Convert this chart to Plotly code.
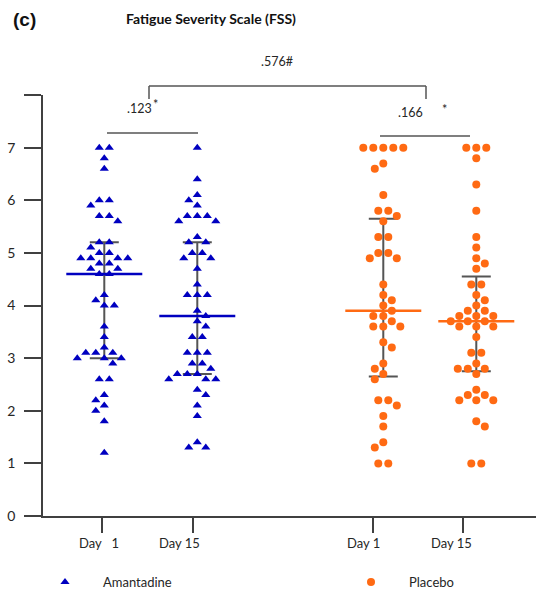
import numpy as np
import plotly.graph_objects as go
from collections import Counter

# ---------------- data ----------------
group_labels = ["Day\u00a0\u00a0\u00a01", "Day 15", "Day 1", "Day 15"]
treatments = ["Amantadine", "Placebo"]

amantadine_day1 = [7.0, 7.0, 6.8, 6.6, 6.0, 6.0, 5.9, 5.7, 5.7, 5.6, 5.2, 5.2, 5.1, 5.0, 5.0,
                   4.9, 4.9, 4.9, 4.9, 4.8, 4.8, 4.7, 4.7, 4.6, 4.6, 4.2, 4.1, 4.0, 4.0, 3.6,
                   3.4, 3.2, 3.1, 3.1, 3.1, 3.0, 3.0, 3.0, 2.9, 2.6, 2.6, 2.3, 2.2, 2.1, 2.0,
                   1.8, 1.2]
amantadine_day15 = [7.0, 6.4, 6.1, 6.0, 5.9, 5.7, 5.7, 5.7, 5.6, 5.6, 5.3, 5.2, 5.2, 5.0, 5.0,
                    4.9, 4.9, 4.7, 4.4, 4.2, 4.2, 4.2, 3.9, 3.8, 3.7, 3.6, 3.4, 3.4, 3.1, 3.1,
                    3.1, 2.9, 2.9, 2.8, 2.7, 2.7, 2.7, 2.6, 2.6, 2.6, 2.4, 2.3, 2.1, 1.9, 1.4,
                    1.3, 1.3]
placebo_day1 = [7.0, 7.0, 7.0, 7.0, 7.0, 6.7, 6.6, 6.1, 5.8, 5.8, 5.7, 5.6, 5.3, 5.3, 5.0,
                5.0, 4.9, 4.9, 4.4, 4.2, 4.1, 4.0, 3.9, 3.8, 3.8, 3.7, 3.6, 3.6, 3.6, 3.3,
                3.2, 2.9, 2.8, 2.7, 2.6, 2.2, 2.2, 2.1, 1.9, 1.7, 1.4, 1.3, 1.0, 1.0]
placebo_day15 = [7.0, 7.0, 7.0, 6.8, 6.3, 5.8, 5.3, 5.1, 4.9, 4.8, 4.7, 4.4, 4.4, 4.2, 4.1,
                 4.0, 3.9, 3.9, 3.8, 3.8, 3.8, 3.7, 3.7, 3.7, 3.6, 3.6, 3.6, 3.4, 3.1, 3.1,
                 2.9, 2.8, 2.8, 2.8, 2.7, 2.4, 2.3, 2.3, 2.2, 2.2, 2.2, 1.8, 1.7, 1.0, 1.0]

group_means = [4.6, 3.8, 3.9, 3.7]
group_upper = [5.2, 5.2, 5.65, 4.55]
group_lower = [3.0, 2.7, 2.65, 2.75]

p_within_amantadine = ".123"
p_within_placebo = ".166"
p_between = ".576#"
y_ticks = [0, 1, 2, 3, 4, 5, 6, 7]

# ---------------- layout geometry ----------------
W, H = 536, 593
ML, MR, MT, MB = 43, 0, 95, 77
PW, PH = W - ML - MR, H - MT - MB
XR = [0.341, 5.642]
YR = [0, 8]
XS = PW / (XR[1] - XR[0])
YS = PH / (YR[1] - YR[0])
centers = [1, 2, 4, 5]
tick_pos = [0.978, 1.951, 3.892, 4.860]
label_pos = [0.941, 1.814, 3.782, 4.728]

BLUE = "#0000c0"
ORANGE = "#ff6a13"
GREY = "#555555"
AXIS = "#404040"
FONT = "Lato"


def px(x):
    return (x - ML) / PW


def py(y):
    return (H - MB - y) / PH


def swarm(values, D=10.0):
    vals = np.asarray(values, float)
    order = np.argsort(-vals, kind="stable")
    cnt = Counter(np.round(vals, 3))
    placed = []
    out = np.zeros(len(vals))
    toggle = -1
    for i in order:
        y = vals[i] * YS
        even = cnt[round(vals[i], 3)] % 2 == 0
        cands = [-D / 2, D / 2] if even else [0.0]
        for (qx, qy) in placed:
            dy = abs(qy - y)
            if dy < D:
                dx = np.sqrt(D * D - dy * dy)
                cands += [qx - dx, qx + dx]
        ok = [c for c in cands
              if all((c - qx) ** 2 + (y - qy) ** 2 >= D * D - 1e-6 for qx, qy in placed)]
        m = min(abs(c) for c in ok)
        best = [c for c in ok if abs(abs(c) - m) < 1e-6]
        if len(best) > 1:
            c = min(best) if toggle < 0 else max(best)
            toggle = -toggle
        else:
            c = best[0]
        placed.append((c, y))
        out[i] = c
    return out / XS


series = [amantadine_day1, amantadine_day15, placebo_day1, placebo_day15]
fig = go.Figure()

# summary (mean line + SD bars)
for k in range(4):
    col = BLUE if k < 2 else ORANGE
    fig.add_trace(go.Scatter(
        x=[centers[k]], y=[group_means[k]], mode="markers",
        marker=dict(size=1, opacity=0), showlegend=False, hoverinfo="skip",
        error_y=dict(type="data", symmetric=False,
                     array=[group_upper[k] - group_means[k]],
                     arrayminus=[group_means[k] - group_lower[k]],
                     color=GREY, thickness=2, width=14.5),
        error_x=dict(type="data", array=[38 / XS], color=col, thickness=2.6, width=0),
    ))

# points
for t, (a, b) in enumerate([(0, 1), (2, 3)]):
    xs, ys = [], []
    for k in (a, b):
        off = swarm(series[k])
        xs += list(centers[k] + off)
        ys += list(series[k])
    fig.add_trace(go.Scatter(
        x=xs, y=ys, mode="markers", name=treatments[t],
        legend="legend" if t == 0 else "legend2",
        marker=dict(symbol="triangle-up" if t == 0 else "circle",
                    color=BLUE if t == 0 else ORANGE, size=8,
                    line=dict(width=0)),
    ))

line = dict(color=GREY, width=1.5)
shapes = [
    dict(type="line", xref="paper", yref="paper", x0=px(149), x1=px(426), y0=py(86), y1=py(86), line=line),
    dict(type="line", xref="paper", yref="paper", x0=px(149), x1=px(149), y0=py(86), y1=py(99), line=line),
    dict(type="line", xref="paper", yref="paper", x0=px(426), x1=px(426), y0=py(86), y1=py(99), line=line),
    dict(type="line", xref="paper", yref="paper", x0=px(107), x1=px(198), y0=py(133), y1=py(133), line=line),
    dict(type="line", xref="paper", yref="paper", x0=px(380), x1=px(470), y0=py(136), y1=py(136), line=line),
]

txt = "#262626"
ann = [
    dict(text="<b>(c)</b>", x=px(24), y=py(19), font=dict(size=19, color="#111", family="Liberation Sans")),
    dict(text="<b>Fatigue Severity Scale (FSS)</b>", x=px(211), y=py(18), font=dict(size=14, color="#111")),
    dict(text=p_between, x=px(277), y=py(62), font=dict(size=12.5, color=txt)),
    dict(text=p_within_amantadine, x=px(139), y=py(108), font=dict(size=12.5, color=txt)),
    dict(text="*", x=px(155), y=py(105), font=dict(size=12.5, color=txt)),
    dict(text=p_within_placebo, x=px(410), y=py(112), font=dict(size=12.5, color=txt)),
    dict(text="*", x=px(444), y=py(109), font=dict(size=12.5, color=txt)),
]
for k in range(4):
    ann.append(dict(text=group_labels[k], x=label_pos[k], xref="x", y=py(543),
                    font=dict(size=13, color=txt)))
for a in ann:
    a.setdefault("xref", "paper")
    a["yref"] = "paper"
    a["showarrow"] = False
    a["xanchor"] = "center"
    a["yanchor"] = "middle"

leg_common = dict(orientation="h", y=py(582), xanchor="left", yanchor="middle",
                  font=dict(size=13, color=txt), itemwidth=66,
                  bgcolor="rgba(0,0,0,0)")

fig.update_layout(
    width=W, height=H, margin=dict(l=ML, r=MR, t=MT, b=MB, autoexpand=False),
    paper_bgcolor="white", plot_bgcolor="white",
    font=dict(family=FONT, color=txt),
    shapes=shapes, annotations=ann,
    showlegend=True,
    legend=dict(x=px(27), **leg_common),
    legend2=dict(x=px(333), **leg_common),
    xaxis=dict(range=XR, showgrid=False, zeroline=False, showline=True, linecolor=AXIS,
               linewidth=1.5, ticks="outside", ticklen=15, tickwidth=1.5, tickcolor=AXIS,
               tickvals=tick_pos, showticklabels=False, fixedrange=True),
    yaxis=dict(range=YR, showgrid=False, zeroline=False, showline=True, linecolor=AXIS,
               linewidth=1.5, ticks="outside", ticklen=17, tickwidth=1.5, tickcolor=AXIS,
               tickvals=y_ticks, ticktext=[str(v) for v in y_ticks],
               minor=dict(tickmode="array", tickvals=[8], ticks="outside", ticklen=17,
                          tickwidth=1.5, tickcolor=AXIS, showgrid=False),
               tickfont=dict(size=14, color=txt), ticklabelstandoff=6, fixedrange=True),
)

fig.write_html("out.html")
